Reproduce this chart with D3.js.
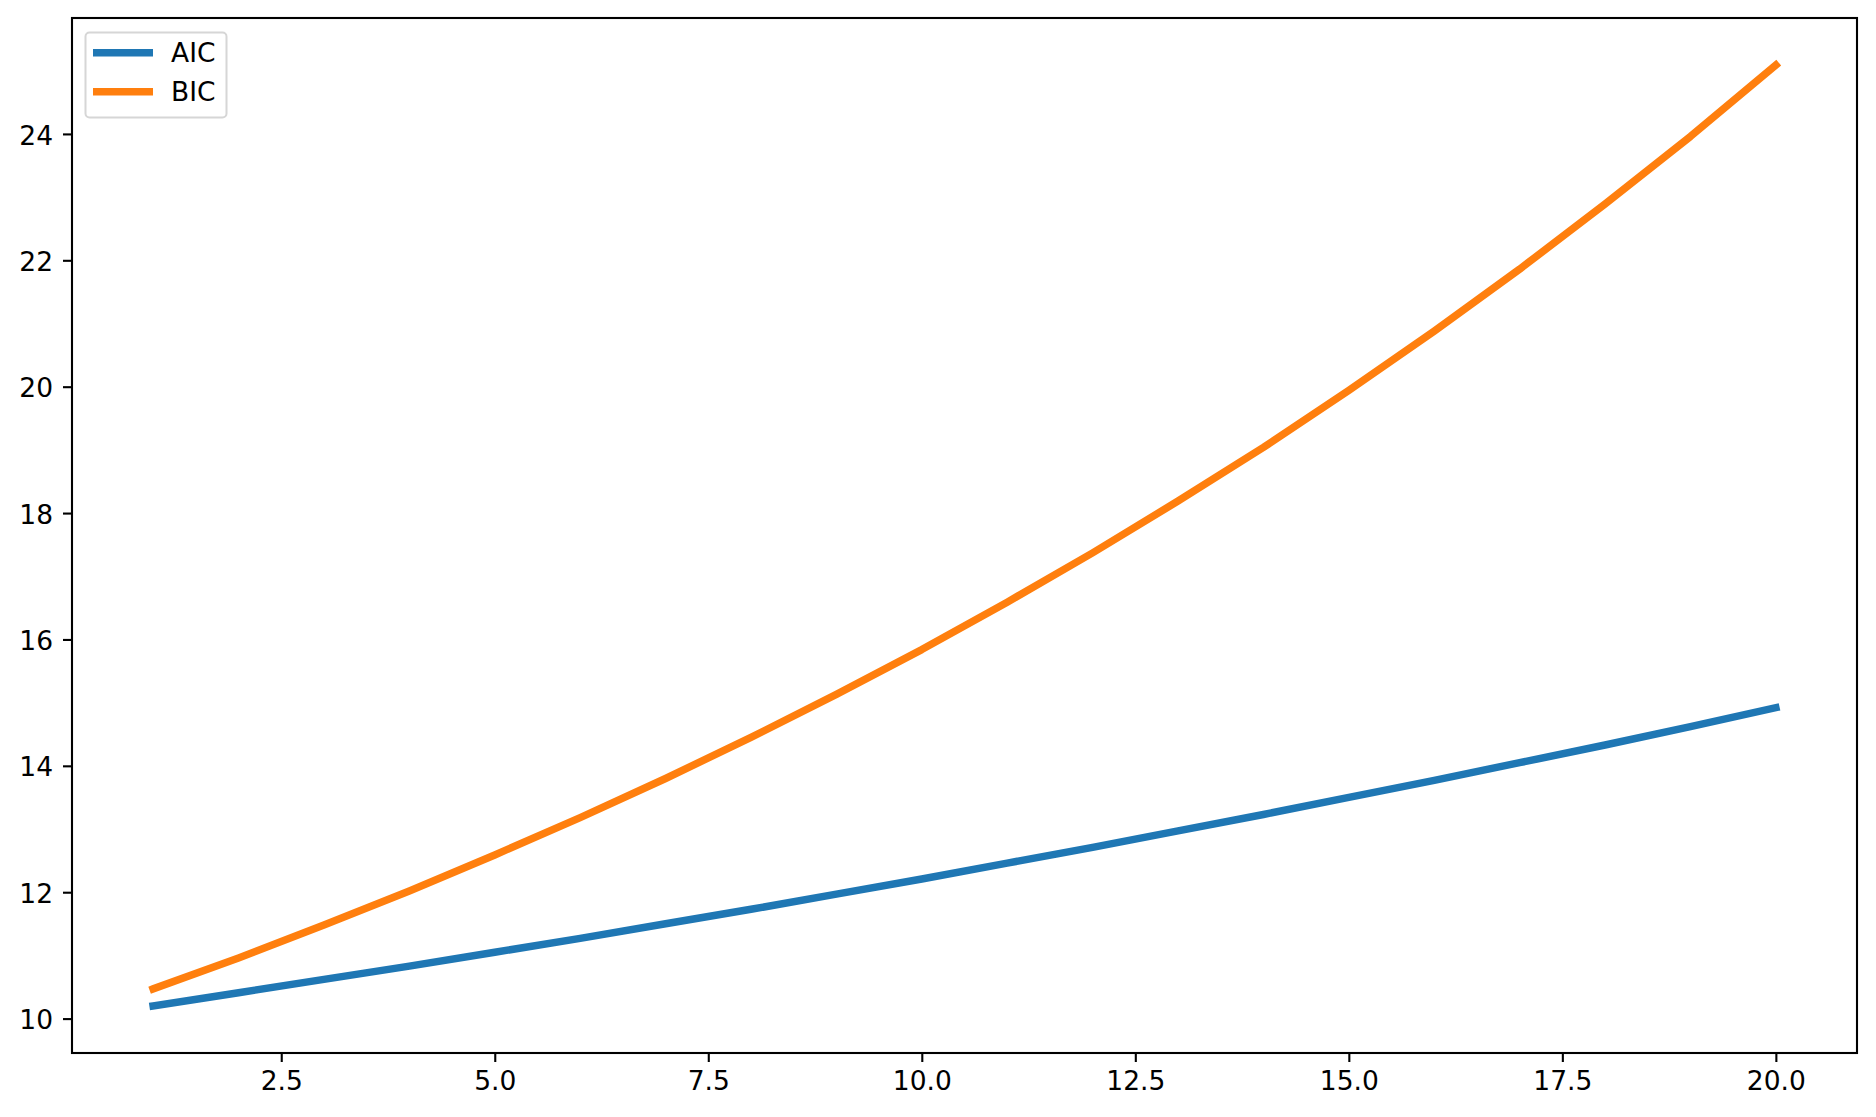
<!DOCTYPE html>
<html>
<head>
<meta charset="utf-8">
<script src="https://cdn.jsdelivr.net/npm/d3@7"></script>
<style>
  html, body { margin: 0; padding: 0; background: #fff; }
  svg { display: block; }
  text { font-family: "DejaVu Sans", sans-serif; }
</style>
</head>
<body>
<svg id="chart" width="1876" height="1117"></svg>
<script>
const xValues = [1,2,3,4,5,6,7,8,9,10,11,12,13,14,15,16,17,18,19,20];
const aicValues = [10.20,10.41,10.62,10.83,11.05,11.27,11.50,11.73,11.97,12.21,12.46,12.71,12.97,13.23,13.50,13.77,14.05,14.33,14.62,14.92];
const bicValues = [10.47,10.96,11.48,12.02,12.59,13.18,13.80,14.45,15.13,15.84,16.59,17.37,18.19,19.04,19.94,20.88,21.86,22.89,23.96,25.09];
const seriesNames = ["AIC", "BIC"];
const seriesColors = ["#1f77b4", "#ff7f0e"];
const xTicks = [2.5, 5.0, 7.5, 10.0, 12.5, 15.0, 17.5, 20.0];
const yTicks = [10, 12, 14, 16, 18, 20, 22, 24];

(function () {
const svg = d3.select("#chart");
const mLeft = 72, mTop = 18, mRight = 1857, mBottom = 1053;

const xMin = d3.min(xValues), xMax = d3.max(xValues);
const xPad = (xMax - xMin) * 0.05;
const allY = aicValues.concat(bicValues);
const yMin = d3.min(allY), yMax = d3.max(allY);
const yPad = (yMax - yMin) * 0.05;

const x = d3.scaleLinear().domain([xMin - xPad, xMax + xPad]).range([mLeft, mRight]);
const y = d3.scaleLinear().domain([yMin - yPad, yMax + yPad]).range([mBottom, mTop]);

const fontSize = 26.5;
const lw = 7.5;

const xAxis = d3.axisBottom(x).tickValues(xTicks).tickFormat(d3.format(".1f")).tickSize(9).tickPadding(9);
const yAxis = d3.axisLeft(y).tickValues(yTicks).tickFormat(d3.format("d")).tickSize(9).tickPadding(10);

const gx = svg.append("g").attr("transform", `translate(0,${mBottom})`).call(xAxis);
const gy = svg.append("g").attr("transform", `translate(${mLeft},0)`).call(yAxis);
[gx, gy].forEach(g => {
  g.select(".domain").remove();
  g.selectAll(".tick line").attr("stroke", "#000").attr("stroke-width", 2.1);
  g.selectAll(".tick text").attr("fill", "#000").style("font-size", fontSize + "px").style("font-family", "'DejaVu Sans', sans-serif");
});
gy.selectAll(".tick text").attr("dy", "0.38em");

const series = [aicValues, bicValues];
const line = d3.line().x((d, i) => x(xValues[i])).y(d => y(d));
series.forEach((vals, i) => {
  svg.append("path")
    .datum(vals)
    .attr("d", line)
    .attr("fill", "none")
    .attr("stroke", seriesColors[i])
    .attr("stroke-width", lw)
    .attr("stroke-linecap", "square")
    .attr("stroke-linejoin", "round");
});

svg.append("rect")
  .attr("x", mLeft).attr("y", mTop)
  .attr("width", mRight - mLeft).attr("height", mBottom - mTop)
  .attr("fill", "none").attr("stroke", "#000").attr("stroke-width", 2.1);

const lg = svg.append("g");
lg.append("rect")
  .attr("x", 85.5).attr("y", 32.5).attr("width", 141).attr("height", 85)
  .attr("rx", 4).attr("ry", 4)
  .attr("fill", "#fff").attr("fill-opacity", 0.8)
  .attr("stroke", "#d6d6d6").attr("stroke-width", 2);
seriesNames.forEach((name, i) => {
  const cy = 52.7 + i * 39;
  lg.append("line")
    .attr("x1", 93).attr("x2", 153).attr("y1", cy).attr("y2", cy)
    .attr("stroke", seriesColors[i]).attr("stroke-width", lw);
  lg.append("text")
    .attr("x", 171).attr("y", cy + 9.5)
    .attr("fill", "#000")
    .style("font-size", fontSize + "px")
    .text(name);
});
})();
</script>
</body>
</html>
